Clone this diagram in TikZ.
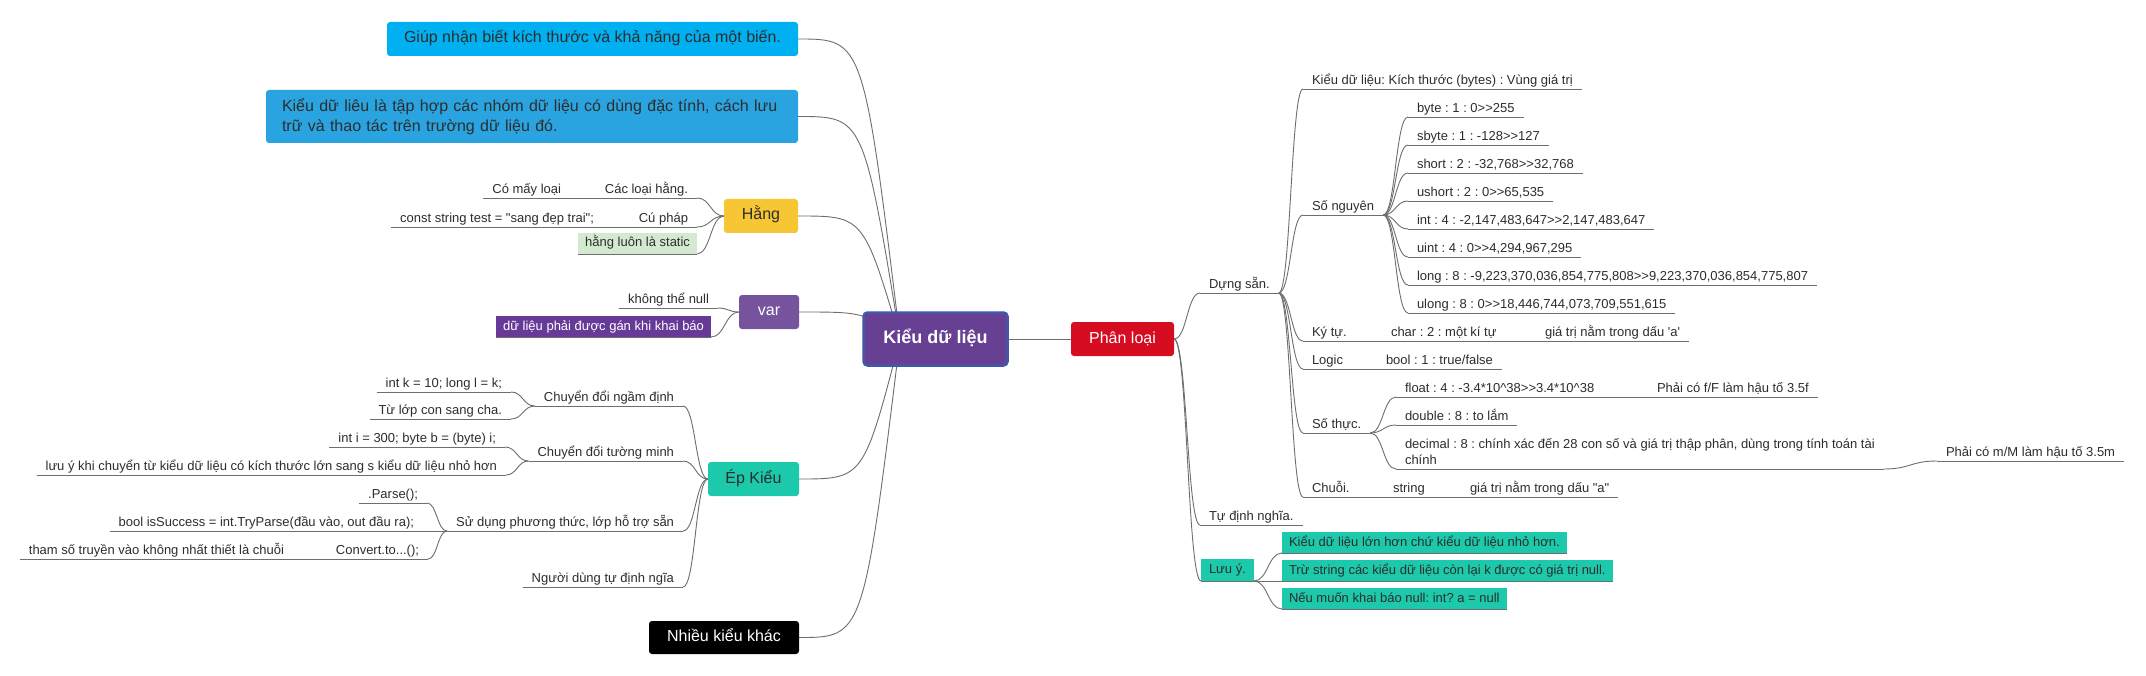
\documentclass[tikz,border=0pt]{standalone}
\usepackage{fontspec}
\setmainfont{Liberation Sans}[Ligatures=TeXOff]
\usetikzlibrary{calc,backgrounds}
\frenchspacing
\definecolor{lnc}{RGB}{110,110,110}
\definecolor{txt}{RGB}{45,45,45}
\definecolor{cyanb}{RGB}{0,176,240}
\definecolor{blueb}{RGB}{42,164,224}
\definecolor{yelb}{RGB}{247,198,52}
\definecolor{varb}{RGB}{117,84,157}
\definecolor{darkp}{RGB}{104,58,152}
\definecolor{tealb}{RGB}{28,201,170}
\definecolor{rootf}{RGB}{103,64,148}
\definecolor{rootb}{RGB}{66,86,172}
\definecolor{redb}{RGB}{214,12,32}
\definecolor{greenb}{RGB}{211,234,209}
\newcommand\cnx[2]{\path ($(#1)!.5!(#2)$) coordinate (cm); \draw[conn] (#1) .. controls (cm |- #1) and (cm |- #2) .. (#2);}
\tikzset{
 conn/.style={draw=lnc, line width=0.9pt},
 tq/.style={font=\fontsize{13}{16}\selectfont, text=txt, inner xsep=9pt, inner ysep=1.5pt, outer sep=0pt},
 tp/.style={tq, text height=10pt, text depth=3pt},
 tl/.style={tp, anchor=south east},
 tr/.style={tp, anchor=south west},
 fb/.style={tp, inner xsep=7pt, inner ysep=3pt, minimum height=21pt},
 bigb/.style={font=\fontsize{16}{20}\selectfont, text=txt, rounded corners=3pt, inner xsep=10pt, inner ysep=0pt, outer sep=0pt},
 big/.style={bigb, text height=12pt, text depth=4pt, minimum height=34pt},
}
\begin{document}
\begin{tikzpicture}[x=1pt,y=-1pt]
\useasboundingbox (0,0) rectangle (2146,676);
% central and main topics
\node[big, fill=rootf, draw=rootb, line width=2.5pt, rounded corners=4pt, minimum width=144pt, minimum height=53pt, text=white, font=\bfseries\fontsize{18}{22}\selectfont, text height=13pt] (root) at (935.5,339) {Kiểu dữ liệu};
\coordinate (rc) at (900,339);
\node[big, fill=cyanb, minimum width=411pt, anchor=east] (giup) at (798,39) {Giúp nhận biết kích thước và khả năng của một biến.};
\node[bigb, fill=blueb, text width=500pt, inner xsep=16pt, minimum height=53pt, align=left, anchor=east] (def) at (798,116.5) {Kiểu dữ liêu là tập hợp các nhóm dữ liệu có dùng đặc tính, cách lưu\\trữ và thao tác trên trường dữ liệu đó.};
\node[big, fill=yelb, minimum width=74pt, anchor=east] (hang) at (798,216) {Hằng};
\node[big, fill=varb, text=white, minimum width=60pt, anchor=east] (var) at (799,312) {var};
\node[big, fill=tealb, minimum width=91pt, anchor=east] (ep) at (799,479) {Ép Kiểu};
\node[big, fill=black, text=white, minimum width=150pt, minimum height=33pt, anchor=east] (nkk) at (799,637.5) {Nhiều kiểu khác};
\node[big, fill=redb, text=white, minimum width=103pt] (pl) at (1122.5,339) {Phân loại};
% Hang
\node[tl] (cl) at (697,198) {Các loại hằng.};
\node[tl] (cml) at (570,198) {Có mấy loại};
\node[tl] (cp) at (697,227) {Cú pháp};
\node[tl] (cst) at (603,227) {const string test = "sang đẹp trai";};
\node[fb, fill=greenb, anchor=south east] (hls) at (697,254) {hằng luôn là static};
% var
\node[tl] (ktn) at (718,308) {không thể null};
\node[fb, fill=darkp, text=white, anchor=south east] (dlp) at (711,337) {dữ liệu phải được gán khi khai báo};
% Ep Kieu
\node[tl] (cdnd) at (683,406) {Chuyển đổi ngầm định};
\node[tl] (ik) at (511,392) {int k = 10; long l = k;};
\node[tl] (tlc) at (511,419) {Từ lớp con sang cha.};
\node[tl] (cdtm) at (683,461) {Chuyển đổi tường minh};
\node[tl] (ii) at (505,447) {int i = 300; byte b = (byte) i;};
\node[tl] (luy) at (506,475) {lưu ý khi chuyển từ kiểu dữ liệu có kích thước lớn sang s kiểu dữ liệu nhỏ hơn};
\node[tl] (sdpt) at (683,531) {Sử dụng phương thức, lớp hỗ trợ sẵn};
\node[tl] (parse) at (427,503) {.Parse();};
\node[tl] (bis) at (423,531) {bool isSuccess = int.TryParse(đầu vào, out đầu ra);};
\node[tl] (cvt) at (428,559) {Convert.to...();};
\node[tl] (tsv) at (293,559) {tham số truyền vào không nhất thiết là chuỗi};
\node[tl] (ndt) at (683,587) {Người dùng tự định ngĩa};
% Phan loai
\node[tr] (ds) at (1200,293) {Dựng sẵn.};
\node[tr] (tdn) at (1200,525) {Tự định nghĩa.};
\node[fb, fill=tealb, anchor=south west, inner xsep=8pt, minimum height=22pt] (lu) at (1201,581) {Lưu ý.};
\node[fb, fill=tealb, anchor=south west] (lu1) at (1282,553) {Kiểu dữ liệu lớn hơn chứ kiểu dữ liệu nhỏ hơn.};
\node[fb, fill=tealb, anchor=south west] (lu2) at (1282,581) {Trừ string các kiểu dữ liệu còn lại k được có giá trị null.};
\node[fb, fill=tealb, anchor=south west] (lu3) at (1282,609) {Nếu muốn khai báo null: int? a = null};
\node[tr] (kdlh) at (1303,89) {Kiểu dữ liệu: Kích thước (bytes) : Vùng giá trị};
\node[tr] (sn) at (1303,215) {Số nguyên};
\node[tr] (b1) at (1408,117) {byte : 1 : 0>>255};
\node[tr] (b2) at (1408,145) {sbyte : 1 : -128>>127};
\node[tr] (b3) at (1408,173) {short : 2 : -32,768>>32,768};
\node[tr] (b4) at (1408,201) {ushort : 2 : 0>>65,535};
\node[tr] (b5) at (1408,229) {int : 4 : -2,147,483,647>>2,147,483,647};
\node[tr] (b6) at (1408,257) {uint : 4 : 0>>4,294,967,295};
\node[tr] (b7) at (1408,285) {long : 8 : -9,223,370,036,854,775,808>>9,223,370,036,854,775,807};
\node[tr] (b8) at (1408,313) {ulong : 8 : 0>>18,446,744,073,709,551,615};
\node[tr] (kt) at (1303,341) {Ký tự.};
\node[tr] (ch) at (1382,341) {char : 2 : một kí tự};
\node[tr] (gta) at (1536,341) {giá trị nằm trong dấu 'a'};
\node[tr] (lg) at (1303,369) {Logic};
\node[tr] (bl) at (1377,369) {bool : 1 : true/false};
\node[tr] (st) at (1303,433) {Số thực.};
\node[tr] (fl) at (1396,397) {float : 4 : -3.4*10\textasciicircum38>>3.4*10\textasciicircum38};
\node[tr] (pf) at (1648,397) {Phải có f/F làm hậu tố 3.5f};
\node[tr] (db) at (1396,425) {double : 8 : to lắm};
\node[tq, anchor=south west, align=left, text depth=3pt] (dc) at (1396,469) {decimal : 8 : chính xác đến 28 con số và giá trị thập phân, dùng trong tính toán tài\\chính};
\node[tr] (pm) at (1937,461) {Phải có m/M làm hậu tố 3.5m};
\node[tr] (cu) at (1303,497) {Chuỗi.};
\node[tr] (str) at (1384,497) {string};
\node[tr] (gtq) at (1461,497) {giá trị nằm trong dấu "a"};
% underlines
\foreach \n in {cl,cml,cp,cst,hls,ktn,dlp,cdnd,ik,tlc,cdtm,ii,luy,sdpt,parse,bis,cvt,tsv,ndt,ds,tdn,lu,lu1,lu2,lu3,kdlh,sn,b1,b2,b3,b4,b5,b6,b7,b8,kt,ch,gta,lg,bl,st,fl,pf,db,dc,pm,cu,str,gtq}
  \draw[conn] (\n.south west) -- (\n.south east);
\begin{pgfonlayer}{background}
\fill[white] (0,0) rectangle (2146,676);
\foreach \n in {giup,def,hang,var,ep,nkk}
  \draw[conn] (\n.east) .. controls (root.west |- \n.east) .. (rc);
\draw[conn] (root.east) -- (pl.west);
% left branches
\foreach \c in {cl,cp,hls} {\cnx{hang.west}{\c.south east}}
\draw[conn] (cl.south west) -- (cml.south east);
\draw[conn] (cp.south west) -- (cst.south east);
\foreach \c in {ktn,dlp} {\cnx{var.west}{\c.south east}}
\foreach \c in {cdnd,cdtm,sdpt,ndt} {\cnx{ep.west}{\c.south east}}
\foreach \c in {ik,tlc} {\cnx{cdnd.south west}{\c.south east}}
\foreach \c in {ii,luy} {\cnx{cdtm.south west}{\c.south east}}
\foreach \c in {parse,cvt} {\cnx{sdpt.south west}{\c.south east}}
\draw[conn] (sdpt.south west) -- (bis.south east);
\draw[conn] (cvt.south west) -- (tsv.south east);
% right branches
\foreach \c in {ds,tdn,lu} {\cnx{pl.east}{\c.south west}}
\foreach \c in {kdlh,sn,kt,lg,st,cu} {\cnx{ds.south east}{\c.south west}}
\foreach \c in {b1,b2,b3,b4,b5,b6,b7,b8} {\cnx{sn.south east}{\c.south west}}
\draw[conn] (kt.south east) -- (ch.south west);
\draw[conn] (ch.south east) -- (gta.south west);
\draw[conn] (lg.south east) -- (bl.south west);
\foreach \c in {fl,db,dc} {\cnx{st.south east}{\c.south west}}
\draw[conn] (fl.south east) -- (pf.south west);
\cnx{dc.south east}{pm.south west}
\draw[conn] (cu.south east) -- (str.south west);
\draw[conn] (str.south east) -- (gtq.south west);
\foreach \c in {lu1,lu2,lu3} {\cnx{lu.south east}{\c.south west}}
\end{pgfonlayer}
\end{tikzpicture}
\end{document}
